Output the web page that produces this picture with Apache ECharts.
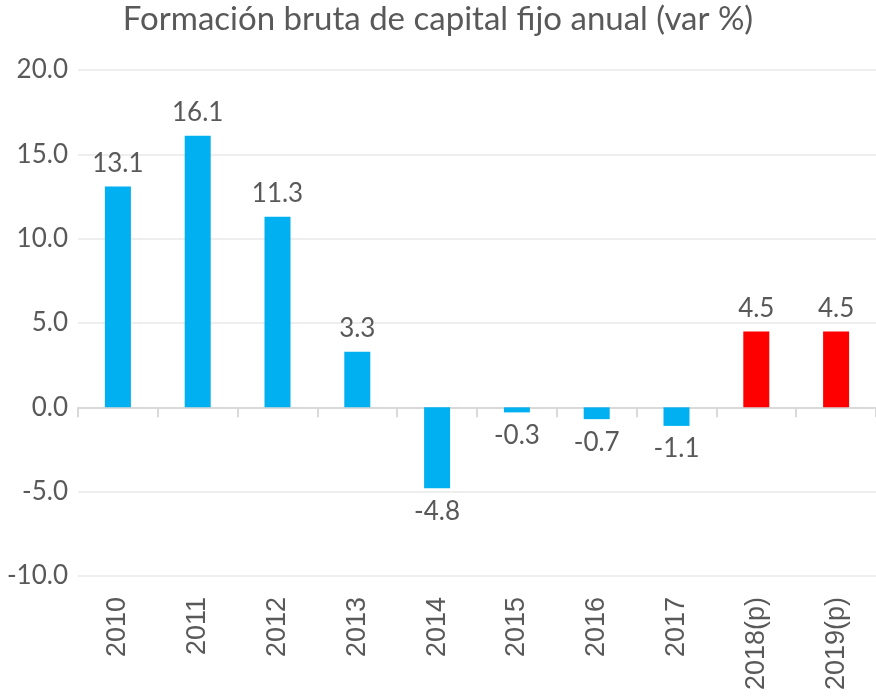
<!DOCTYPE html>
<html>
<head>
<meta charset="utf-8">
<script src="https://cdn.jsdelivr.net/npm/echarts@6/dist/echarts.min.js"></script>
<style>
  html, body { margin: 0; padding: 0; background: #fff; }
  #chart { width: 876px; height: 699px; }
</style>
</head>
<body>
<div id="chart"></div>
<script>
// datos
const years = ["2010", "2011", "2012", "2013", "2014", "2015", "2016", "2017", "2018(p)", "2019(p)"];
const values = [13.1, 16.1, 11.3, 3.3, -4.8, -0.3, -0.7, -1.1, 4.5, 4.5];
const projected = [false, false, false, false, false, false, false, false, true, true];

const txt = "#595959";
const font = "Lato";

const chart = echarts.init(document.getElementById("chart"));

const barData = values.map((v, i) => ({
  value: v,
  itemStyle: { color: projected[i] ? "#FF0000" : "#00B0F0" },
  label: { position: v < 0 ? "bottom" : "top" }
}));

chart.setOption({
  animation: false,
  title: {
    text: "Formación bruta de capital fijo anual (var %)",
    left: "center",
    top: -2,
    textStyle: { fontFamily: font, fontSize: 33, fontWeight: "normal", color: txt }
  },
  grid: { left: 78, width: 800, top: 70, bottom: 123 },
  xAxis: [
    {
      // etiquetas abajo
      type: "category",
      data: years,
      position: "bottom",
      axisLine: { show: false, onZero: false },
      axisTick: { show: false },
      axisLabel: { rotate: 90, margin: 21, fontFamily: "Liberation Sans", fontSize: 27, color: txt }
    },
    {
      // linea del cero con marcas
      type: "category",
      data: years,
      position: "bottom",
      axisLine: { show: true, onZero: true, lineStyle: { color: "#d9d9d9", width: 2 } },
      axisTick: { show: true, length: 10, lineStyle: { color: "#d9d9d9", width: 2 } },
      axisLabel: { show: false }
    }
  ],
  yAxis: {
    type: "value",
    min: -10,
    max: 20,
    interval: 5,
    axisLine: { show: false },
    axisTick: { show: false },
    splitLine: { lineStyle: { color: "#eeeeee", width: 2 } },
    axisLabel: {
      margin: 10,
      fontFamily: font,
      fontSize: 26,
      color: txt,
      formatter: v => v.toFixed(1)
    }
  },
  series: [
    {
      type: "bar",
      xAxisIndex: 0,
      barWidth: 26,
      data: barData,
      label: {
        show: true,
        distance: 10,
        fontFamily: font,
        fontSize: 26,
        color: txt,
        formatter: p => p.value.toFixed(1)
      }
    }
  ]
});
</script>
</body>
</html>
